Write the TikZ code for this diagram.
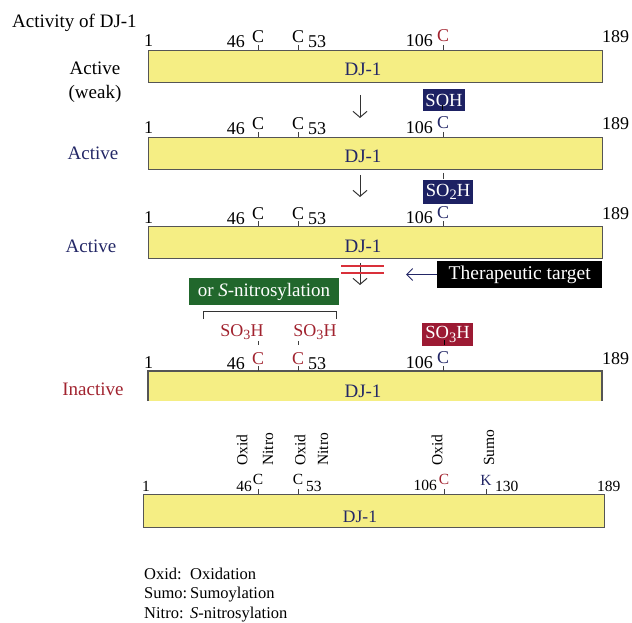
\documentclass[tikz,border=0pt]{standalone}
\usepackage{fontspec}
\setmainfont{Liberation Serif}
\usetikzlibrary{arrows.meta}

\definecolor{baryellow}{HTML}{F5EE84}
\definecolor{barline}{HTML}{555555}
\definecolor{navy}{HTML}{232766}
\definecolor{navybox}{HTML}{1D2163}
\definecolor{dred}{HTML}{A1232F}
\definecolor{redbox}{HTML}{9C1A33}
\definecolor{dgreen}{HTML}{21672C}
\definecolor{arrowgray}{HTML}{333333}
\definecolor{bandred}{HTML}{D9303A}

% chemical subscript, set low and fairly large
\newcommand{\chemsub}[1]{\raisebox{-0.4ex}{\scalebox{0.78}{#1}}}

\begin{document}
\begin{tikzpicture}[x=1pt,y=-1pt,
  bar/.style={draw=barline, fill=baryellow, line width=1.2pt, inner sep=0pt,
    minimum height=32pt, anchor=north west},
  lbl/.style={font=\fontsize{19}{21}\selectfont, inner sep=0pt},
  num/.style={font=\fontsize{18}{20}\selectfont, inner sep=0pt},
  sml/.style={font=\fontsize{15.5}{17}\selectfont, inner sep=0pt},
  leg/.style={font=\fontsize{16.5}{18}\selectfont, inner sep=0pt, anchor=base west},
  tickmark/.style={draw=black!75, line width=0.9pt},
  downarrow/.style={draw=arrowgray, line width=1pt,
    -{Straight Barb[length=6pt,width=14pt,line width=1pt]}},
  tagbox/.style={text=white, inner sep=0pt, font=\fontsize{18.5}{20}\selectfont},
]
\useasboundingbox (0,0) rectangle (632,623);

% ---------- title and activity labels ----------
\node[lbl, anchor=base west] (title) at (12,28) {Activity of DJ-1};
\node[lbl, anchor=base] (act1) at (95,75) {Active};
\node[lbl, anchor=base] (weak) at (95,99) {(weak)};
\node[lbl, anchor=base, text=navy] (act2) at (93,160) {Active};
\node[lbl, anchor=base, text=navy] (act3) at (91,252) {Active};
\node[lbl, anchor=base, text=dred] (inact) at (93,395) {Inactive};

% ---------- the four DJ-1 bars ----------
\node[bar, minimum width=454pt] (bar1) at (148,50) {};
\node[bar, minimum width=454pt] (bar2) at (148,137) {};
\node[bar, minimum width=454pt] (bar3) at (148,226) {};
% last bar is cut off at its lower edge
\fill[baryellow] (148,371) rectangle (602,401);
\draw[barline, line width=1.2pt] (148,401) -- (148,371) -- (602,371) -- (602,401);
\coordinate (bar4) at (375,386);

\foreach \Y in {50,137,226,371}{
  \node[lbl, anchor=base, text=navy] (dj\Y) at (363,\Y+26) {DJ-1};
}

% residue numbering above each bar: \Y / colour of C106 / colour of C46,C53
\foreach \Y/\cc/\ca in {50/dred/black, 137/navy/black, 226/navy/black, 371/navy/dred}{
  \node[num, anchor=base west] (one\Y) at (144,\Y-3) {1};
  \node[num, anchor=base east] (n46\Y) at (245,\Y-2) {46};
  \node[num, anchor=base, text=\ca] (c46\Y) at (258,\Y-7) {C};
  \node[num, anchor=base, text=\ca] (c53\Y) at (298,\Y-7) {C};
  \node[num, anchor=base west] (n53\Y) at (308,\Y-2) {53};
  \node[num, anchor=base east] (n106\Y) at (433,\Y-3) {106};
  \node[num, anchor=base, text=\cc] (c106\Y) at (443,\Y-8) {C};
  \node[num, anchor=base west] (n189\Y) at (602,\Y-7) {189};
  \foreach \x in {258,298,443}{
    \draw[tickmark] (\x,\Y-5) -- (\x,\Y);
  }
}

% ---------- oxidation states of C106 ----------
\node[tagbox, fill=navybox, minimum width=42pt, minimum height=22pt] (soh) at (444,100) {SOH};
\draw[tickmark, draw=black] (442,105) -- (442,110);
\node[tagbox, fill=navybox, minimum width=50pt, minimum height=23pt] (so2h) at (448,192) {SO\chemsub{2}H};
\draw[tickmark] (443,173) -- (443,179);
\node[tagbox, fill=redbox, minimum width=51pt, minimum height=23pt] (so3h) at (447.5,334.5) {SO\chemsub{3}H};
\draw[tickmark, draw=black] (444,340) -- (444,345);

% ---------- arrows between the states ----------
\coordinate (a1s) at (360,95);  \coordinate (a1e) at (360,118);
\coordinate (a2s) at (360,175); \coordinate (a2e) at (360,197);
\coordinate (a3s) at (360,263); \coordinate (a3e) at (360,285);
\draw[downarrow] (a1s) -- (a1e);
\draw[downarrow] (a2s) -- (a2e);
\draw[downarrow] (a3s) -- (a3e);
% blocked step
\coordinate (blkL) at (341,266); \coordinate (blkR) at (384,266);
\draw[bandred, line width=1.2pt] (blkL) -- (blkR);
\draw[bandred, line width=1.2pt] ([yshift=-7pt]blkL) -- ([yshift=-7pt]blkR);

% therapeutic target
\node[tagbox, fill=black, minimum width=165pt, minimum height=27pt, anchor=west,
  font=\fontsize{19.5}{21}\selectfont] (target) at (437,274.5) {Therapeutic target};
\coordinate (tgtend) at (406,274.5);
\draw[navy, line width=1pt, -{Straight Barb[length=6pt,width=12pt,line width=1pt]}]
  (target.west) -- (tgtend);

% ---------- S-nitrosylation of C46 / C53 ----------
\node[tagbox, fill=dgreen, minimum width=150pt, minimum height=27pt,
  font=\fontsize{19}{21}\selectfont] (nitro) at (264,291.5) {or \textit{S}-nitrosylation};
\coordinate (brL) at (203,319); \coordinate (brR) at (336,319);
\draw[black!80, line width=1pt] (brL) -- (brL |- 0,311) -- (brR |- 0,311) -- (brR);
\node[num, anchor=base, text=dred] (so3a) at (242,336) {SO\chemsub{3}H};
\node[num, anchor=base, text=dred] (so3b) at (315,336) {SO\chemsub{3}H};
\draw[tickmark] (258,341) -- (258,345);
\draw[tickmark] (298,341) -- (298,345);

% ---------- modification map ----------
\node[bar, minimum width=461pt, minimum height=33pt] (bar5) at (143,494) {};
\node[anchor=base, inner sep=0pt, text=navy, font=\fontsize{17.5}{19}\selectfont] (dj5) at (360,522) {DJ-1};
\node[sml, anchor=base west] (m1) at (142,491) {1};
\node[sml, anchor=base east] (m46) at (252,491) {46};
\node[sml, anchor=base] (mc46) at (258,484) {C};
\node[sml, anchor=base] (mc53) at (298,484) {C};
\node[sml, anchor=base west] (m53) at (306,491) {53};
\node[sml, anchor=base east] (m106) at (437,490) {106};
\node[sml, anchor=base, text=dred] (mc106) at (444,484) {C};
\node[sml, anchor=base, text=navy] (mk130) at (486,485) {K};
\node[sml, anchor=base west] (m130) at (495,491) {130};
\node[sml, anchor=base west] (m189) at (597,491) {189};
\foreach \x in {258,298,444,486}{
  \draw[tickmark] (\x,489) -- (\x,494);
}
\node[sml, rotate=90, anchor=west] (ox46) at (242,466) {Oxid};
\node[sml, rotate=90, anchor=west] (ni46) at (268,466) {Nitro};
\node[sml, rotate=90, anchor=west] (ox53) at (300,466) {Oxid};
\node[sml, rotate=90, anchor=west] (ni53) at (323,466) {Nitro};
\node[sml, rotate=90, anchor=west] (ox106) at (437,466) {Oxid};
\node[sml, rotate=90, anchor=west] (su130) at (489,466) {Sumo};

% ---------- legend ----------
\node[leg] (l1a) at (144,579) {Oxid:};
\node[leg] (l1b) at (190,579) {Oxidation};
\node[leg] (l2a) at (144,598) {Sumo:};
\node[leg] (l2b) at (190,598) {Sumoylation};
\node[leg] (l3a) at (144,618) {Nitro:};
\node[leg] (l3b) at (190,618) {\textit{S}-nitrosylation};
\end{tikzpicture}
\end{document}
